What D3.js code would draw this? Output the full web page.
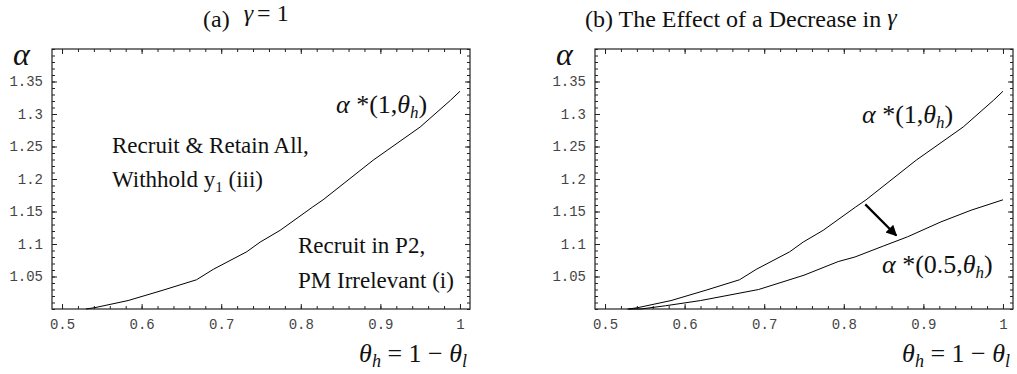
<!DOCTYPE html>
<html>
<head>
<meta charset="utf-8">
<script src="https://cdn.jsdelivr.net/npm/d3@7"></script>
<style>
  body { margin: 0; background: #fff; }
</style>
</head>
<body>
<div id="chart"></div>
<script>
// alpha*(1, theta_h) curve
const theta_g1 = [0.53, 0.541, 0.583, 0.627, 0.669, 0.69, 0.732, 0.749, 0.774, 0.815, 0.828, 0.891, 0.95, 0.988, 1.0];
const alpha_g1 = [1.0, 1.002, 1.013, 1.029, 1.045, 1.061, 1.088, 1.103, 1.121, 1.157, 1.168, 1.229, 1.28, 1.321, 1.335];

// alpha*(0.5, theta_h) curve
const theta_g05 = [0.528, 0.545, 0.576, 0.62, 0.693, 0.75, 0.793, 0.814, 0.85, 0.88, 0.922, 0.96, 1.0];
const alpha_g05 = [1.0, 1.0, 1.005, 1.013, 1.03, 1.052, 1.073, 1.08, 1.097, 1.111, 1.134, 1.152, 1.168];

// arrow in panel (b): from upper curve towards lower
const arrow_theta = [0.827, 0.866];
const arrow_alpha = [1.161, 1.113];

const x_ticks = [0.5, 0.6, 0.7, 0.8, 0.9, 1.0];
const x_labels = ["0.5", "0.6", "0.7", "0.8", "0.9", "1"];
const y_ticks = [1.05, 1.1, 1.15, 1.2, 1.25, 1.3, 1.35];
const y_labels = ["1.05", "1.1", "1.15", "1.2", "1.25", "1.3", "1.35"];

const W = 1017, H = 374;
const plot_top = 49, plot_bottom = 309, pw = 418;
const x_domain = [0.4874, 1.0126];
const y_domain = [1.0, 1.4];
const serif = "'Liberation Serif', 'Times New Roman', serif";

const svg = d3.select("#chart").append("svg")
  .attr("width", W).attr("height", H);

const y = d3.scaleLinear().domain(y_domain).range([plot_bottom, plot_top]);

const minor_x = d3.range(0.5, 1.001, 0.02).map((v) => +v.toFixed(2));
const minor_y = d3.range(1.0, 1.401, 0.01).map((v) => +v.toFixed(2));

const line = (x) => d3.line().x((d) => x(d[0])).y((d) => y(d[1]));

const txt = (g, x, yy, size) =>
  g.append("text").attr("x", x).attr("y", yy)
    .style("font-family", serif).style("font-size", size + "px").attr("fill", "#111");

// draws a Mathematica-style framed panel, returns x scale and group
const panel = (left) => {
  const x = d3.scaleLinear().domain(x_domain).range([left, left + pw]);
  const g = svg.append("g");

  const ax = (axis, tr) => {
    const a = g.append("g").attr("transform", tr).call(axis);
    a.select(".domain").remove();
    a.selectAll("line").attr("stroke", "#222");
    return a;
  };

  // minor ticks on all four sides (inward)
  ax(d3.axisBottom(x).tickValues(minor_x).tickSize(-3).tickFormat(""), `translate(0,${plot_bottom})`);
  ax(d3.axisTop(x).tickValues(minor_x).tickSize(-3).tickFormat(""), `translate(0,${plot_top})`);
  ax(d3.axisLeft(y).tickValues(minor_y).tickSize(-3).tickFormat(""), `translate(${left},0)`);
  ax(d3.axisRight(y).tickValues(minor_y).tickSize(-3).tickFormat(""), `translate(${left + pw},0)`);

  // major ticks
  const bx = ax(d3.axisBottom(x).tickValues(x_ticks).tickSize(-5).tickPadding(10)
    .tickFormat((d, i) => x_labels[i]), `translate(0,${plot_bottom})`);
  ax(d3.axisTop(x).tickValues(x_ticks).tickSize(-5).tickFormat(""), `translate(0,${plot_top})`);
  const ly = ax(d3.axisLeft(y).tickValues(y_ticks).tickSize(-5).tickPadding(9)
    .tickFormat((d, i) => y_labels[i]), `translate(${left},0)`);
  ax(d3.axisRight(y).tickValues(y_ticks).tickSize(-5).tickFormat(""), `translate(${left + pw},0)`);

  [bx, ly].forEach((a) =>
    a.selectAll("text")
      .style("font-family", "'Liberation Mono', 'Courier New', monospace")
      .style("font-size", "14px")
      .attr("fill", "#444"));

  // frame
  g.append("rect")
    .attr("x", left).attr("y", plot_top)
    .attr("width", pw).attr("height", plot_bottom - plot_top)
    .attr("fill", "none").attr("stroke", "#222").attr("stroke-width", 1.2);

  // alpha axis label
  txt(g, left - 39, 65, 32).style("font-style", "italic").text("α");

  // theta axis label
  const xl = txt(g, left + pw - 3, 362, 26)
    .attr("text-anchor", "end").style("font-style", "italic");
  xl.append("tspan").text("θ");
  xl.append("tspan").attr("dy", 5).style("font-size", "18px").text("h");
  xl.append("tspan").attr("dy", -5).style("font-style", "normal").text(" = 1 − ");
  xl.append("tspan").text("θ");
  xl.append("tspan").attr("dy", 5).style("font-size", "18px").text("l");

  return { x, g };
};

const curveLabel = (g, xPos, yPos, first) => {
  const t = txt(g, xPos, yPos, 26);
  t.append("tspan").style("font-style", "italic").text("α");
  t.append("tspan").text(" *(" + first + ",");
  t.append("tspan").style("font-style", "italic").text("θ");
  t.append("tspan").attr("dy", 5).style("font-size", "17px").style("font-style", "italic").text("h");
  t.append("tspan").attr("dy", -5).text(")");
};

// ---- panel (a)
const a = panel(52);
a.g.append("path")
  .datum(d3.zip(theta_g1, alpha_g1))
  .attr("d", line(a.x))
  .attr("fill", "none").attr("stroke", "#000").attr("stroke-width", 1);

const ta = txt(svg, 203, 27, 24);
ta.append("tspan").text("(a)");
ta.append("tspan").attr("dx", 14).attr("dy", -6).style("font-style", "italic").text("γ");
ta.append("tspan").attr("dx", 4).text("= 1");

curveLabel(a.g, 336, 113, "1");

txt(a.g, 112, 153, 23).text("Recruit & Retain All,");
const r2 = txt(a.g, 112, 187, 23);
r2.append("tspan").text("Withhold y");
r2.append("tspan").attr("dy", 5).style("font-size", "15px").text("1");
r2.append("tspan").attr("dy", -5).text(" (iii)");

txt(a.g, 298, 253, 23).text("Recruit in P2,");
txt(a.g, 298, 288, 23).text("PM Irrelevant (i)");

// ---- panel (b)
const b = panel(595);
[[theta_g1, alpha_g1], [theta_g05, alpha_g05]].forEach(([t, v]) => {
  b.g.append("path")
    .datum(d3.zip(t, v))
    .attr("d", line(b.x))
    .attr("fill", "none").attr("stroke", "#000").attr("stroke-width", 1);
});

svg.append("defs").append("marker")
  .attr("id", "head").attr("viewBox", "0 0 10 10")
  .attr("refX", 9).attr("refY", 5)
  .attr("markerWidth", 6).attr("markerHeight", 5)
  .attr("orient", "auto")
  .append("path").attr("d", "M0,0 L10,5 L0,10 z").attr("fill", "#000");

b.g.append("line")
  .attr("x1", b.x(arrow_theta[0])).attr("y1", y(arrow_alpha[0]))
  .attr("x2", b.x(arrow_theta[1])).attr("y2", y(arrow_alpha[1]))
  .attr("stroke", "#000").attr("stroke-width", 2.2)
  .attr("marker-end", "url(#head)");

const tb = txt(svg, 585, 27, 24);
tb.append("tspan").text("(b) The Effect of a Decrease in ");
tb.append("tspan").attr("dy", -2).style("font-style", "italic").text("γ");

curveLabel(b.g, 862, 123, "1");
curveLabel(b.g, 882, 273, "0.5");
</script>
</body>
</html>
